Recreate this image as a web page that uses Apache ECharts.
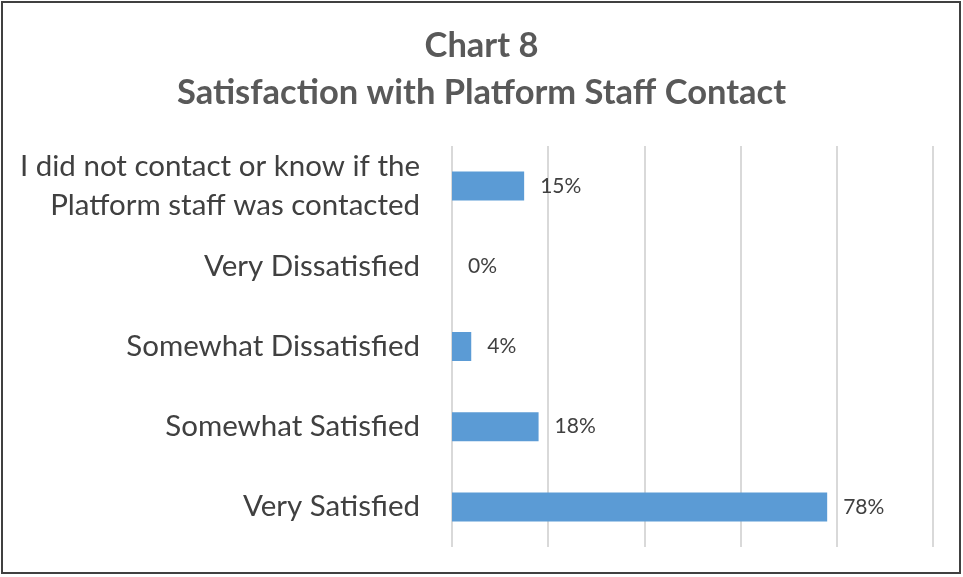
<!DOCTYPE html>
<html>
<head>
<meta charset="utf-8">
<script src="https://cdn.jsdelivr.net/npm/echarts@6/dist/echarts.min.js"></script>
<style>
  html, body { margin: 0; padding: 0; background: #fff; }
  #main { width: 963px; height: 577px; }
</style>
</head>
<body>
<div id="main"></div>
<script>
var categories = [
  'I did not contact or know if the\nPlatform staff was contacted',
  'Very Dissatisfied',
  'Somewhat Dissatisfied',
  'Somewhat Satisfied',
  'Very Satisfied'
];
var values = [15, 0, 4, 18, 78];

var myChart = echarts.init(document.getElementById('main'));
myChart.setOption({
  animation: false,
  backgroundColor: '#fff',
  graphic: [{
    type: 'rect',
    shape: { x: 2, y: 2, width: 958, height: 571 },
    style: { fill: 'none', stroke: '#404040', lineWidth: 2 },
    silent: true
  }],
  title: {
    text: 'Chart 8\nSatisfaction with Platform Staff Contact',
    left: 'center',
    top: 17,
    textStyle: {
      fontFamily: 'Lato',
      fontWeight: 'bold',
      fontSize: 34.5,
      color: '#595959',
      lineHeight: 47
    }
  },
  grid: { left: 452, right: 30, top: 146, bottom: 30 },
  xAxis: {
    type: 'value',
    min: 0,
    max: 100,
    interval: 20,
    axisLabel: { show: false },
    axisLine: { show: false },
    axisTick: { show: false },
    splitLine: { lineStyle: { color: '#d9d9d9', width: 2 } }
  },
  yAxis: {
    type: 'category',
    inverse: true,
    data: categories,
    axisLine: { show: false },
    axisTick: { show: false },
    axisLabel: {
      margin: 32,
      fontFamily: 'Lato',
      fontSize: 29.5,
      lineHeight: 39,
      color: '#404040',
      align: 'right'
    }
  },
  series: [{
    type: 'bar',
    data: values,
    barWidth: 29,
    itemStyle: { color: '#5B9BD5' },
    label: {
      show: true,
      position: 'right',
      distance: 16,
      formatter: '{c}%',
      fontFamily: 'Lato',
      fontSize: 21,
      color: '#404040'
    }
  }]
});
</script>
</body>
</html>
